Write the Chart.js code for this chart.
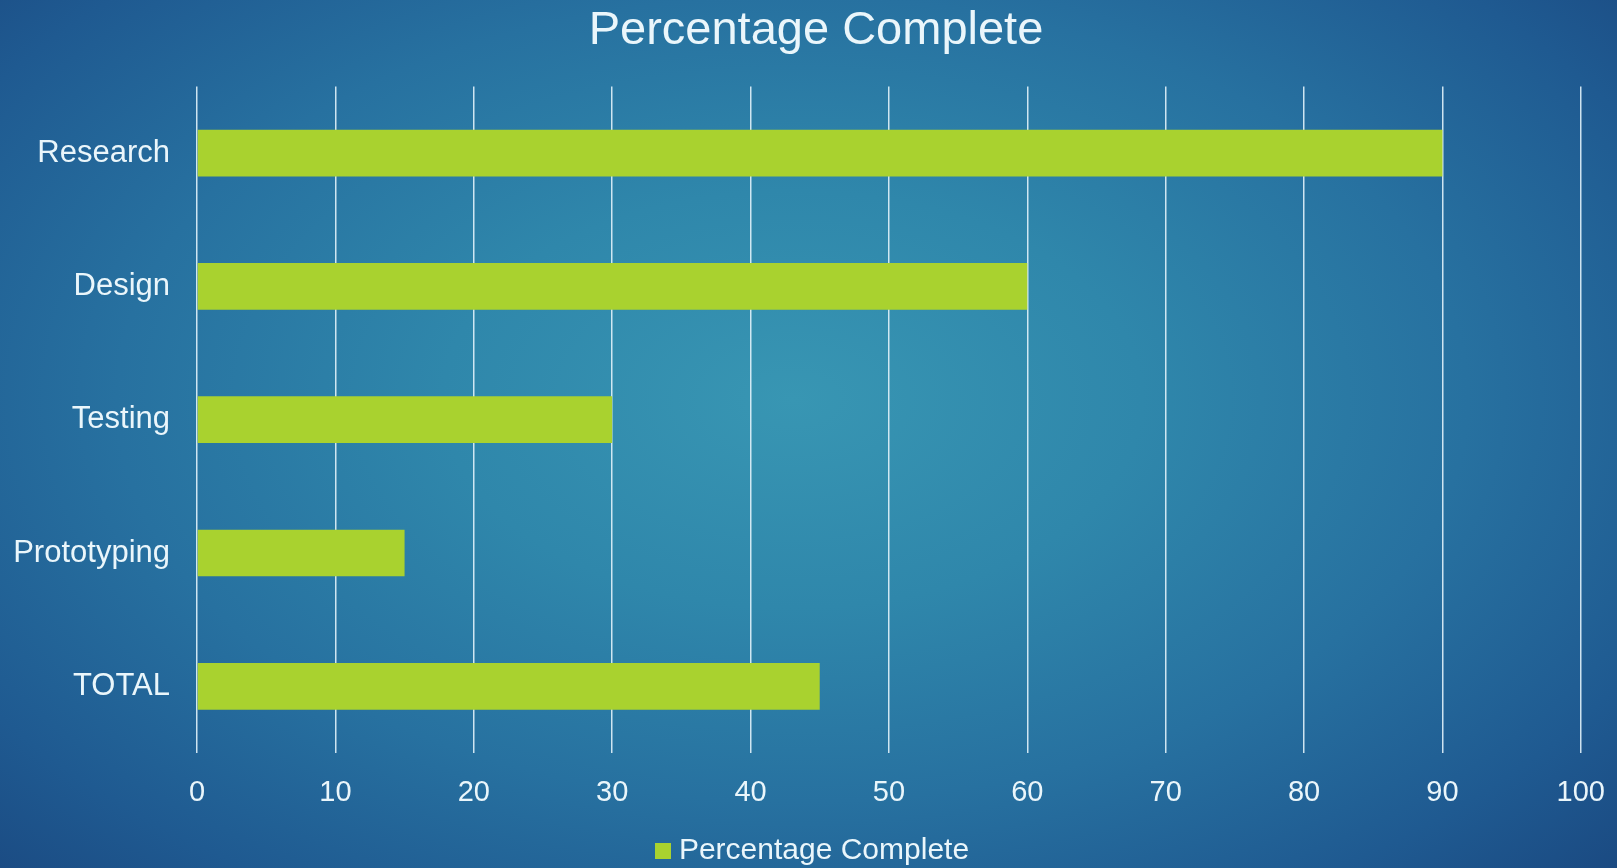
<!DOCTYPE html>
<html>
<head>
<meta charset="utf-8">
<script src="https://cdn.jsdelivr.net/npm/chart.js@4"></script>
<style>
  html, body { margin: 0; padding: 0; width: 1617px; height: 868px; overflow: hidden; }
  body {
    background: radial-gradient(ellipse 72% 80% at 49% 46%, #3896b3 0%, #2f87ab 30%, #2771a0 58%, #1f5a91 82%, #1a4880 100%);
  }
  #wrap { position: absolute; left: 0; top: 0; width: 1617px; height: 868px; }
</style>
</head>
<body>
<div id="wrap"><canvas id="c" width="1617" height="868"></canvas></div>
<script>
const categories = ["Research", "Design", "Testing", "Prototyping", "TOTAL"];
const percentComplete = [90, 60, 30, 15, 45];
const seriesName = "Percentage Complete";
const chartTitle = "Percentage Complete";
const xMin = 0, xMax = 100, xStep = 10;

const FONT = "'Liberation Sans', Arial, sans-serif";
const TEXT = "#eaf6fb";
const BAR = "#a9d22f";

// legend swatch (16x16 square)
const swatch = document.createElement("canvas");
swatch.width = 16; swatch.height = 16;
const sctx = swatch.getContext("2d");
sctx.fillStyle = BAR; sctx.fillRect(0, 0, 16, 16);

new Chart(document.getElementById("c"), {
  type: "bar",
  data: {
    labels: categories,
    datasets: [{
      label: seriesName,
      data: percentComplete,
      backgroundColor: BAR,
      borderWidth: 0,
      barPercentage: 0.35,
      categoryPercentage: 1.0
    }]
  },
  options: {
    indexAxis: "y",
    responsive: false,
    animation: false,
    layout: { padding: { left: 0, right: -15, top: 0, bottom: -8 } },
    plugins: {
      title: {
        display: true,
        text: chartTitle,
        color: TEXT,
        font: { family: FONT, size: 47, weight: "normal" },
        padding: { top: 3, bottom: 27 }
      },
      legend: {
        display: true,
        position: "bottom",
        labels: {
          color: TEXT,
          font: { family: FONT, size: 30, lineHeight: 1 },
          usePointStyle: true,
          pointStyle: swatch,
          boxWidth: 1,
          boxHeight: 16,
          padding: 0
        }
      },
      tooltip: { enabled: false }
    },
    scales: {
      x: {
        min: xMin,
        max: xMax,
        ticks: { stepSize: xStep, color: TEXT, font: { family: FONT, size: 29 }, padding: 12, maxRotation: 0 },
        grid: { display: true, color: "rgba(225,242,250,0.9)", lineWidth: 1.5, drawTicks: true, tickLength: 11, tickColor: "rgba(0,0,0,0)" },
        border: { display: false },
        afterFit: (s) => { s.height = 83; }
      },
      y: {
        ticks: { color: TEXT, font: { family: FONT, size: 31 }, padding: 27 },
        grid: { display: false, drawTicks: false },
        border: { display: false },
        afterFit: (s) => { s.width = 197; }
      }
    }
  }
});
</script>
</body>
</html>
